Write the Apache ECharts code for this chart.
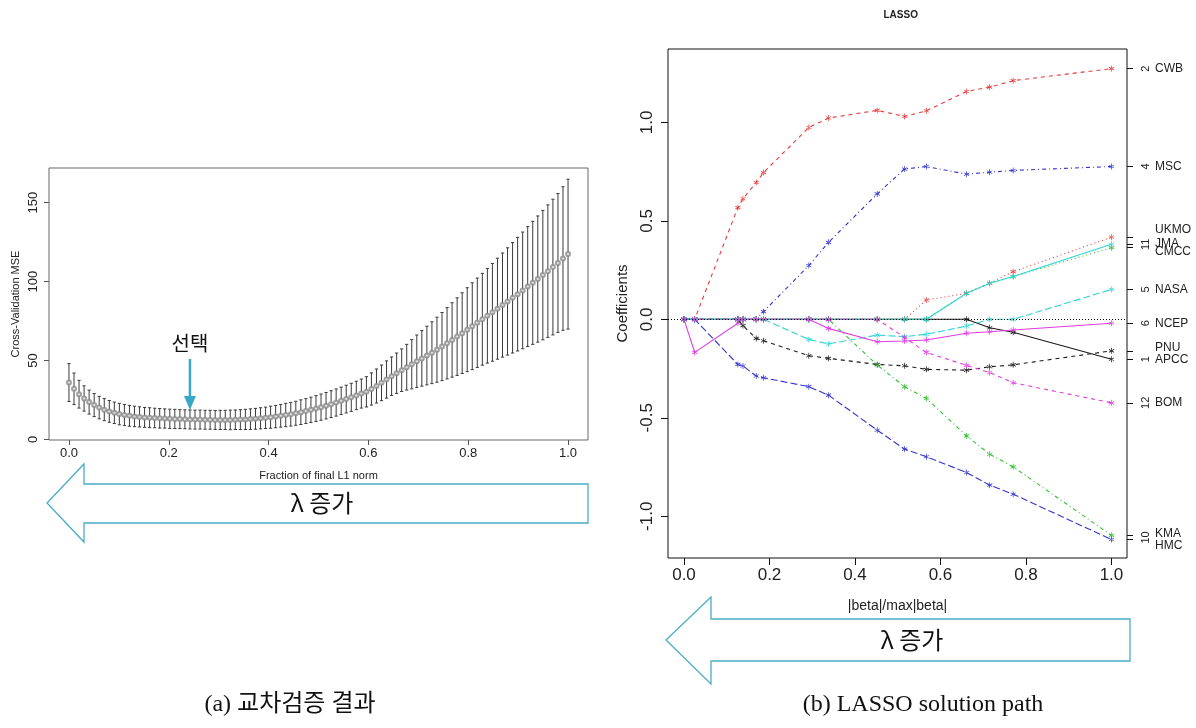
<!DOCTYPE html>
<html><head><meta charset="utf-8">
<script src="https://cdn.jsdelivr.net/npm/echarts@6/dist/echarts.min.js"></script>
<style>html,body{margin:0;padding:0;background:#fff}#c{width:1196px;height:728px}</style>
</head><body><div id="c"></div>
<script>
// ---------- (a) cross-validation ----------
const CV_MEAN = [36.0,32.0,28.6,25.9,23.6,21.7,20.1,18.8,17.7,16.8,
16.0,15.4,14.9,14.5,14.2,13.9,13.7,13.5,13.3,13.2,
13.0,12.9,12.8,12.7,12.6,12.5,12.5,12.4,12.4,12.3,
12.3,12.3,12.3,12.4,12.5,12.6,12.8,13.0,13.3,13.6,
14.0,14.4,14.9,15.4,15.9,16.5,17.2,17.9,18.7,19.5,
20.4,21.3,22.3,23.3,24.4,25.5,26.6,27.8,29.0,30.1,
31.9,33.8,35.8,37.9,40.0,41.9,43.8,45.7,47.6,49.5,
51.3,53.1,54.9,56.8,58.8,60.9,63.0,65.1,67.3,69.5,
71.7,73.9,76.1,78.3,80.5,82.8,85.1,87.4,89.7,92.0,
94.4,96.8,99.2,101.6,104.1,106.6,109.2,111.8,114.6,117.4];
const CV_SE = [12.0,10.0,8.8,8.0,7.6,7.3,7.1,7.0,6.9,6.8,
6.8,6.7,6.6,6.5,6.4,6.3,6.3,6.2,6.2,6.1,
6.1,6.1,6.0,6.0,6.0,6.0,6.0,6.0,6.0,6.0,
6.1,6.1,6.2,6.2,6.3,6.4,6.5,6.6,6.7,6.8,
7.0,7.1,7.2,7.4,7.5,7.6,7.8,7.9,8.0,8.2,
8.3,8.4,8.5,8.6,8.7,8.8,8.9,9.0,9.2,9.6,
10.2,10.8,11.3,11.8,12.2,12.8,13.5,14.5,15.6,16.6,
17.6,18.6,19.6,20.6,21.6,22.6,23.6,24.6,25.6,26.6,
27.5,28.3,29.1,30.0,31.0,32.0,33.0,34.0,35.0,36.0,
37.0,38.0,39.0,40.0,41.0,42.0,43.0,44.0,45.5,47.5];
// fraction grid of cv.lars: seq(0, 1, length = 100)
const CV_FRACTION = CV_MEAN.map((_, i) => i / (CV_MEAN.length - 1));
const CV_X_TICKS = [0, 0.2, 0.4, 0.6, 0.8, 1.0];
const CV_Y_TICKS = [0, 50, 100, 150];
const SELECTED_INDEX = 24;

// ---------- (b) LASSO path ----------
const PATH_FRACTION = [0, 0.025, 0.126, 0.138, 0.169, 0.186, 0.292, 0.338, 0.452, 0.516, 0.567, 0.661, 0.715, 0.770, 1.0];
const APCC = [0,0,0,0,0,0,0,0,0,0,0,0,-0.043,-0.066,-0.203];
const CWB  = [0,0,0.567,0.612,0.695,0.745,0.974,1.022,1.061,1.030,1.059,1.157,1.179,1.212,1.273];
const CMCC = [0,0,0,0,0,0,0,0,0,0,0,0.132,0.183,0.217,0.364];
const MSC  = [0,0,0,0,0,0.039,0.273,0.391,0.637,0.763,0.776,0.737,0.747,0.756,0.776];
const NASA = [0,0,0,0,0,0,-0.102,-0.125,-0.080,-0.088,-0.076,-0.034,0,0,0.152];
const NCEP = [0,-0.168,-0.020,0,0,0,0,-0.046,-0.114,-0.110,-0.105,-0.071,-0.063,-0.054,-0.020];
const PNU  = [0,0,0,-0.032,-0.097,-0.109,-0.185,-0.198,-0.229,-0.236,-0.254,-0.258,-0.241,-0.231,-0.160];
const UKMO = [0,0,0,0,0,0,0,0,0,0,0.098,0.132,0.183,0.242,0.417];
const KMA  = [0,0,0,0,0,0,0,0,-0.232,-0.342,-0.402,-0.592,-0.685,-0.749,-1.097];
const HMC  = [0,0,-0.229,-0.237,-0.288,-0.297,-0.342,-0.385,-0.563,-0.659,-0.698,-0.778,-0.842,-0.888,-1.118];
const JMA  = [0,0,0,0,0,0,0,0,0,0,0,0.132,0.183,0.217,0.381];
const BOM  = [0,0,0,0,0,0,0,0,0,-0.092,-0.168,-0.234,-0.270,-0.322,-0.424];
const MODEL_NAMES = ['APCC','CWB','CMCC','MSC','NASA','NCEP','PNU','UKMO','KMA','HMC','JMA','BOM'];
const MODEL_NUMBERS = ['1','2','','4','5','6','','','','10','11','12'];
const PATH_X_TICKS = [0, 0.2, 0.4, 0.6, 0.8, 1.0];
const PATH_Y_TICKS = [-1.0, -0.5, 0, 0.5, 1.0];

const PATHS = [APCC, CWB, CMCC, MSC, NASA, NCEP, PNU, UKMO, KMA, HMC, JMA, BOM];

// R palette / lty cycling (matplot)
const R_COLORS = ['#1a1a1a','#e83b3b','#2fc02f','#3434d0','#30d4d4','#e03ce0'];
const R_DASH = ['solid',[4,4],[1,3],[1,3,4,3],[7,3]];
// small vertical offsets so stacked right-side names don't overlap (px)
const NAME_NUDGE = {UKMO:-8, JMA:-1, CMCC:4, PNU:-3, APCC:0, KMA:-2, HMC:6};

const ASTERISK = 'path://M-0.6,-5L0.6,-5L0.6,5L-0.6,5Z M4.03,3.02L4.63,1.98L-4.03,-3.02L-4.63,-1.98Z M-4.63,1.98L-4.03,3.02L4.63,-1.98L4.03,-3.02Z';

const SANS = '"Liberation Sans", Arial, sans-serif';
const KR = '"Noto Sans CJK KR", sans-serif';
const SERIF = '"Liberation Serif", "Noto Sans CJK KR", serif';

const chart = echarts.init(document.getElementById('c'), null, {renderer: 'canvas'});

const pathSeries = PATHS.map((vals, i) => ({
  type: 'line',
  name: MODEL_NAMES[i],
  xAxisIndex: 1, yAxisIndex: 1,
  data: vals.map((v, k) => [PATH_FRACTION[k], v]),
  symbol: ASTERISK,
  symbolSize: 6,
  symbolKeepAspect: true,
  showSymbol: true,
  animation: false,
  z: 2 + i * 0.01,
  lineStyle: {color: R_COLORS[i % 6], width: 1.1, type: R_DASH[i % 5]},
  itemStyle: {color: R_COLORS[i % 6]},
  emphasis: {disabled: true}
}));
pathSeries[pathSeries.length - 1].markLine = {
  silent: true, symbol: 'none', animation: false,
  label: {show: false},
  lineStyle: {color: '#000', width: 1, type: [1, 2]},
  data: [{yAxis: 0}]
};

const AX_OFF = {show: false, onZero: false};

const option = {
  animation: false,
  backgroundColor: '#fff',
  grid: [
    {left: 49, top: 168, width: 539, height: 272, show: true, borderColor: '#666', borderWidth: 1, backgroundColor: 'transparent'},
    {left: 668, top: 49, width: 459, height: 509, show: true, borderColor: '#111', borderWidth: 1, backgroundColor: 'transparent'}
  ],
  xAxis: [
    {type: 'value', gridIndex: 0, min: -0.04, max: 1.04,
     axisLine: AX_OFF, splitLine: {show: false},
     axisTick: {customValues: CV_X_TICKS, length: 5, lineStyle: {color: '#555'}},
     axisLabel: {customValues: CV_X_TICKS, formatter: v => v.toFixed(1), fontSize: 13, margin: 7, color: '#222', fontFamily: SANS},
     name: 'Fraction of final L1 norm', nameLocation: 'middle', nameGap: 30,
     nameTextStyle: {fontSize: 11, color: '#222', fontFamily: SANS}},
    {type: 'value', gridIndex: 1, min: -0.0374, max: 1.0363,
     axisLine: AX_OFF, splitLine: {show: false},
     axisTick: {customValues: PATH_X_TICKS, length: 7, lineStyle: {color: '#111'}},
     axisLabel: {customValues: PATH_X_TICKS, formatter: v => v.toFixed(1), fontSize: 17, margin: 9, color: '#222', fontFamily: SANS},
     name: '|beta|/max|beta|', nameLocation: 'middle', nameGap: 41,
     nameTextStyle: {fontSize: 14, color: '#222', fontFamily: SANS}}
  ],
  yAxis: [
    {type: 'value', gridIndex: 0, min: -0.44, max: 172,
     axisLine: AX_OFF, splitLine: {show: false},
     axisTick: {customValues: CV_Y_TICKS, length: 5, lineStyle: {color: '#555'}},
     axisLabel: {customValues: CV_Y_TICKS, rotate: 90, fontSize: 13, margin: 9, color: '#222', fontFamily: SANS},
     name: 'Cross-Validation MSE', nameLocation: 'middle', nameRotate: 90, nameGap: 28,
     nameTextStyle: {fontSize: 11, color: '#222', fontFamily: SANS}},
    {type: 'value', gridIndex: 1, min: -1.212, max: 1.3727,
     axisLine: AX_OFF, splitLine: {show: false},
     axisTick: {customValues: PATH_Y_TICKS, length: 7, lineStyle: {color: '#111'}},
     axisLabel: {customValues: PATH_Y_TICKS, formatter: v => v.toFixed(1), rotate: 90, fontSize: 17, margin: 12, color: '#222', fontFamily: SANS},
     name: 'Coefficients', nameLocation: 'middle', nameRotate: 90, nameGap: 38,
     nameTextStyle: {fontSize: 15, color: '#222', fontFamily: SANS}},
    {type: 'value', gridIndex: 1, position: 'right', min: -1.212, max: 1.3727,
     axisLine: AX_OFF, splitLine: {show: false},
     axisTick: {customValues: PATHS.map(p => p[p.length - 1]), length: 6, lineStyle: {color: '#111'}},
     axisLabel: {show: false}}
  ],
  series: [
    {type: 'custom', xAxisIndex: 0, yAxisIndex: 0, animation: false, silent: true,
     data: CV_MEAN.map((m, i) => [CV_FRACTION[i], m - CV_SE[i], m + CV_SE[i]]),
     renderItem: (params, api) => {
       const x = api.value(0);
       const lo = api.coord([x, api.value(1)]);
       const hi = api.coord([x, api.value(2)]);
       const w = 1.6;
       const st = {stroke: '#3a3a3a', lineWidth: 1};
       return {type: 'group', children: [
         {type: 'line', shape: {x1: hi[0], y1: hi[1], x2: lo[0], y2: lo[1]}, style: st},
         {type: 'line', shape: {x1: hi[0] - w, y1: hi[1], x2: hi[0] + w, y2: hi[1]}, style: st},
         {type: 'line', shape: {x1: lo[0] - w, y1: lo[1], x2: lo[0] + w, y2: lo[1]}, style: st}
       ]};
     }},
    {type: 'scatter', xAxisIndex: 0, yAxisIndex: 0, animation: false, silent: true,
     data: CV_MEAN.map((m, i) => [CV_FRACTION[i], m]),
     symbol: 'emptyCircle', symbolSize: 4, z: 3,
     itemStyle: {color: '#8a8a8a', borderWidth: 1}},
    ...pathSeries
  ]
};
chart.setOption(option);

// ---------- annotations derived from the chart's own scales ----------
const g = [];
const T = (text, x, y, opts) => g.push(Object.assign({type: 'text', x, y, style: Object.assign({text, fill: '#222', textAlign: 'center', textVerticalAlign: 'middle'}, opts || {})}));

// LASSO title
const titleX = chart.convertToPixel({xAxisIndex: 1}, 0.5);
T('LASSO', titleX + 3, 15, {font: 'bold 10px ' + SANS});

// right-side variable numbers and names
PATHS.forEach((p, i) => {
  const y = chart.convertToPixel({yAxisIndex: 2}, p[p.length - 1]);
  const name = MODEL_NAMES[i];
  if (MODEL_NUMBERS[i]) {
    g.push({type: 'text', x: 1146, y: y + (name === 'HMC' ? -2 : 0), rotation: Math.PI / 2,
      style: {text: MODEL_NUMBERS[i], font: '11px ' + SANS, fill: '#222', textAlign: 'center', textVerticalAlign: 'middle'}});
  }
  g.push({type: 'text', x: 1155, y: y + (NAME_NUDGE[name] || 0),
    style: {text: name, font: '12px ' + SANS, fill: '#222', textAlign: 'left', textVerticalAlign: 'middle'}});
});

// "선택" marker above the selected fraction
const sel = chart.convertToPixel({xAxisIndex: 0, yAxisIndex: 0}, [CV_FRACTION[SELECTED_INDEX], CV_MEAN[SELECTED_INDEX]]);
T('선택', sel[0], 343, {font: '20px ' + KR, fill: '#111'});
g.push({type: 'line', shape: {x1: sel[0], y1: 359, x2: sel[0], y2: 398}, style: {stroke: '#3aa7c9', lineWidth: 2.5}});
g.push({type: 'polygon', shape: {points: [[sel[0] - 6, 396], [sel[0] + 6, 396], [sel[0], 410]]}, style: {fill: '#3aa7c9'}});

// big "lambda increases" arrows
const ARROW_STYLE = {fill: '#fff', stroke: '#4bacc6', lineWidth: 1.3};
g.push({type: 'polygon', z: -1, shape: {points: [[588,484],[84,484],[84,464],[47,503],[84,542],[84,523],[588,523]]}, style: ARROW_STYLE});
g.push({type: 'polygon', z: -1, shape: {points: [[1130,619],[711,619],[711,597],[666,640],[711,684],[711,661],[1130,661]]}, style: ARROW_STYLE});
T('λ 증가', 322, 503, {font: '24px ' + KR, fill: '#111'});
T('λ 증가', 912, 640, {font: '24px ' + KR, fill: '#111'});

// captions
T('(a) 교차검증 결과', 290, 705, {font: '24px ' + SERIF, fill: '#111'});
T('(b) LASSO solution path', 923, 705, {font: '24px ' + SERIF, fill: '#111'});

chart.setOption({graphic: g});
</script></body></html>
